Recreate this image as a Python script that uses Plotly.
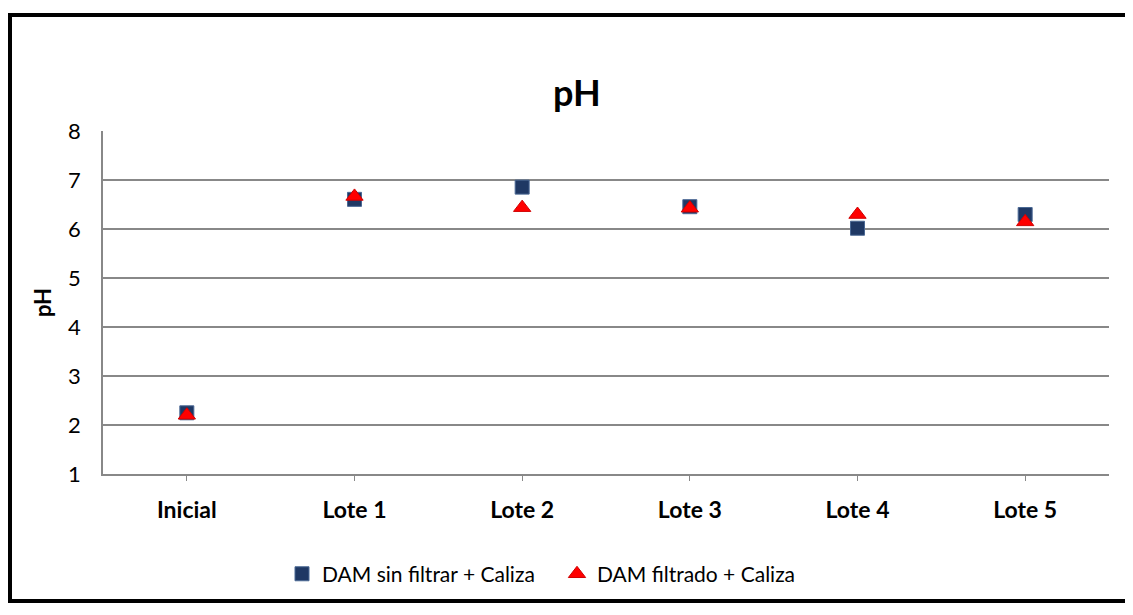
import plotly.graph_objects as go

categories = ["Inicial", "Lote 1", "Lote 2", "Lote 3", "Lote 4", "Lote 5"]
ph_sin_filtrar = [2.25, 6.61, 6.86, 6.46, 6.02, 6.30]
ph_filtrado = [2.20, 6.67, 6.44, 6.43, 6.30, 6.15]
y_ticks = [1, 2, 3, 4, 5, 6, 7, 8]

FONT = "Lato"

fig = go.Figure()

fig.add_trace(go.Scatter(
    x=categories, y=ph_sin_filtrar, mode="markers",
    name="DAM sin filtrar + Caliza",
    marker=dict(symbol="square", size=14, color="#1F3864",
                line=dict(color="#4A6894", width=1)),
))
fig.add_trace(go.Scatter(
    x=categories, y=ph_filtrado, mode="markers",
    name="DAM filtrado + Caliza",
    marker=dict(symbol="triangle-up", size=15, color="#FF0000",
                line=dict(color="#D00000", width=1)),
))

# page body has an 8px margin on every side; fit the figure inside it
OFF = 8
W, H = 1133 - 2 * OFF, 615 - 2 * OFF
L, T = 103 - OFF, 131 - OFF
R = W - (1109 - OFF)
B = H - (477 - OFF)
pw, ph = W - L - R, H - T - B
def px(x): return (x - OFF - L) / pw
def py(y): return (H - B - (y - OFF)) / ph

# outer chart frame: left, top and bottom edges (right side is cut off)
frame = dict(type="line", xref="paper", yref="paper",
             line=dict(color="black", width=4), layer="below")
fig.add_shape(x0=px(10), x1=px(10), y0=py(607), y1=py(12), **frame)
fig.add_shape(x0=px(8), x1=px(1140), y0=py(14), y1=py(14), **frame)
fig.add_shape(x0=px(8), x1=px(1140), y0=py(605), y1=py(605), **frame)

fig.add_annotation(text="<b>pH</b>", xref="paper", yref="paper",
                   x=px(577), y=py(67), showarrow=False,
                   font=dict(family=FONT, size=36, color="black"))

fig.update_xaxes(
    type="category", range=[-0.5, 5.5],
    showline=True, linecolor="#888888", linewidth=1.5,
    ticks="outside", ticklen=5, tickcolor="#888888",
    tickfont=dict(family=FONT, size=23, color="black", weight="bold"),
    ticklabelstandoff=10,
    showgrid=False, zeroline=False,
)
fig.update_yaxes(
    range=[1, 8.006], tickvals=y_ticks,
    showline=True, linecolor="#888888", linewidth=1.5,
    gridcolor="#888888", gridwidth=1.5,
    tickfont=dict(family=FONT, size=22, color="black"),
    ticklabelstandoff=16, zeroline=False,
    title=dict(text="<b>pH</b>", font=dict(family=FONT, size=22, color="black"),
               standoff=10),
)

fig.update_layout(
    width=W, height=H,
    margin=dict(l=L, r=R, t=T, b=B),
    paper_bgcolor="white", plot_bgcolor="white",
    showlegend=True,
    legend=dict(orientation="h", xanchor="left", yanchor="middle",
                x=px(282), y=py(578), entrywidth=230, entrywidthmode="pixels",
                font=dict(family=FONT, size=21, color="black"),
                itemsizing="trace", bgcolor="rgba(0,0,0,0)"),
)

fig.write_html("out.html")
